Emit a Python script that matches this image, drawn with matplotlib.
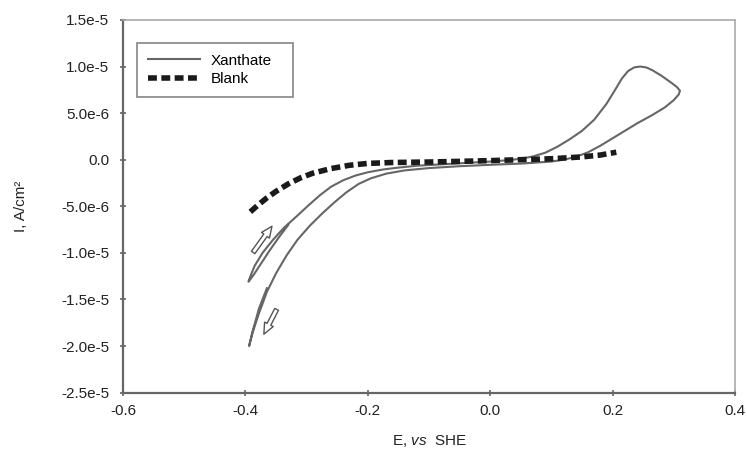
import matplotlib
matplotlib.use('Agg')
import matplotlib.pyplot as plt

plt.rcParams['font.family'] = ['Liberation Sans', 'DejaVu Sans']
plt.rcParams['mathtext.fontset'] = 'custom'
plt.rcParams['mathtext.rm'] = 'Liberation Sans'
plt.rcParams['mathtext.it'] = 'Liberation Sans:italic'

# Xanthate scan: first descent, anodic sweep with oxidation peak, return to the lower vertex
xan_E = [-0.330, -0.345, -0.360, -0.375, -0.387, -0.395,
         -0.393, -0.385, -0.372, -0.355, -0.337, -0.315, -0.297, -0.278, -0.260,
         -0.240, -0.220, -0.200, -0.175, -0.150, -0.120, -0.080, -0.040, 0.000,
         0.030, 0.050, 0.070, 0.090, 0.110, 0.130, 0.150, 0.170, 0.190, 0.205,
         0.215, 0.225, 0.235, 0.245, 0.255, 0.265, 0.280, 0.295, 0.305, 0.310,
         0.308, 0.300, 0.285, 0.265, 0.240, 0.220, 0.200, 0.180, 0.160, 0.140,
         0.120, 0.100, 0.050, 0.000, -0.050, -0.100, -0.140, -0.170, -0.195,
         -0.215, -0.235, -0.255, -0.275, -0.295, -0.315, -0.333, -0.350, -0.365,
         -0.378, -0.388, -0.394,
         -0.389, -0.378, -0.365]
xan_I = [-7.0e-6, -8.3e-6, -9.7e-6, -1.12e-5, -1.24e-5, -1.31e-5,
         -1.27e-5, -1.14e-5, -1.0e-5, -8.6e-6, -7.3e-6, -6.0e-6, -4.9e-6, -3.8e-6, -2.9e-6,
         -2.2e-6, -1.7e-6, -1.35e-6, -1.05e-6, -0.85e-6, -0.65e-6, -0.5e-6, -0.35e-6, -0.2e-6,
         -0.05e-6, 0.1e-6, 0.35e-6, 0.75e-6, 1.4e-6, 2.2e-6, 3.1e-6, 4.3e-6, 6.0e-6, 7.6e-6,
         8.7e-6, 9.5e-6, 9.9e-6, 1.0e-5, 9.9e-6, 9.6e-6, 9.0e-6, 8.3e-6, 7.8e-6, 7.4e-6,
         7.0e-6, 6.4e-6, 5.6e-6, 4.8e-6, 3.9e-6, 3.1e-6, 2.3e-6, 1.5e-6, 0.8e-6, 0.3e-6,
         0.0, -0.2e-6, -0.42e-6, -0.55e-6, -0.7e-6, -0.9e-6, -1.15e-6, -1.5e-6, -2.0e-6,
         -2.6e-6, -3.5e-6, -4.6e-6, -5.8e-6, -7.1e-6, -8.6e-6, -1.03e-5, -1.22e-5, -1.42e-5,
         -1.65e-5, -1.85e-5, -2.0e-5,
         -1.86e-5, -1.6e-5, -1.38e-5]

# Blank scan
blank_E = [-0.392, -0.380, -0.365, -0.350, -0.330, -0.310, -0.290, -0.260, -0.230,
           -0.200, -0.160, -0.100, -0.050, 0.000, 0.050, 0.100, 0.150, 0.180, 0.206]
blank_I = [-5.6e-6, -4.9e-6, -4.1e-6, -3.4e-6, -2.6e-6, -1.95e-6, -1.45e-6, -0.95e-6, -0.6e-6,
           -0.4e-6, -0.3e-6, -0.25e-6, -0.18e-6, -0.1e-6, 0.0, 0.1e-6, 0.3e-6, 0.5e-6, 0.8e-6]

y_ticks = [1.5e-5, 1.0e-5, 5.0e-6, 0.0, -5.0e-6, -1.0e-5, -1.5e-5, -2.0e-5, -2.5e-5]
y_labels = ['1.5e-5', '1.0e-5', '5.0e-6', '0.0', '-5.0e-6', '-1.0e-5', '-1.5e-5', '-2.0e-5', '-2.5e-5']
x_ticks = [-0.6, -0.4, -0.2, 0.0, 0.2, 0.4]
x_labels = ['-0.6', '-0.4', '-0.2', '0.0', '0.2', '0.4']

fig = plt.figure(figsize=(7.47, 4.49), dpi=100, facecolor='white')
ax = fig.add_axes([0.1647, 0.1256, 0.8193, 0.83])

ax.plot(xan_E, xan_I, color='#666666', linewidth=1.5, label='Xanthate')
ax.plot(blank_E, blank_I, color='#1a1a1a', linewidth=4, dashes=(1.6, 0.8), label='Blank')

# sweep direction arrows (hollow)
arrow = dict(arrowstyle='simple,head_width=0.7,head_length=0.8,tail_width=0.3',
             facecolor='white', edgecolor='#555555', linewidth=1.0)
ax.annotate('', xy=(-0.354, -6.9e-6), xytext=(-0.390, -1.02e-5), arrowprops=arrow)
ax.annotate('', xy=(-0.372, -1.9e-5), xytext=(-0.347, -1.58e-5), arrowprops=arrow)

ax.set_xlim(-0.6, 0.4)
ax.set_ylim(-2.5e-5, 1.5e-5)
ax.set_xticks(x_ticks)
ax.set_xticklabels(x_labels)
ax.set_yticks(y_ticks)
ax.set_yticklabels(y_labels)
ax.tick_params(axis='both', labelsize=11, labelcolor='#222222', length=4,
               width=1.2, direction='inout', color='#666666')
ax.tick_params(axis='x', pad=6)
ax.tick_params(axis='y', pad=8)

for side in ['left', 'bottom']:
    ax.spines[side].set_color('#666666')
    ax.spines[side].set_linewidth(1.6)
for side in ['top', 'right']:
    ax.spines[side].set_color('#aaaaaa')
    ax.spines[side].set_linewidth(1.2)

ax.set_xlabel(r'E, $\it{vs}$  SHE', fontsize=11, color='#222222', labelpad=11)
ax.set_ylabel('I, A/cm²', fontsize=11, color='#222222', labelpad=24)

leg = ax.legend(loc='upper left', bbox_to_anchor=(0.0229, 0.5, 0.255, 0.438),
                mode='expand', fontsize=11, frameon=True, fancybox=False,
                handlelength=3.4, borderpad=0.7, labelspacing=0.3,
                handletextpad=0.7, borderaxespad=0)
leg.get_frame().set_edgecolor('#666666')
leg.get_frame().set_linewidth(1.2)

fig.savefig('out.png', dpi=100, facecolor='white')
